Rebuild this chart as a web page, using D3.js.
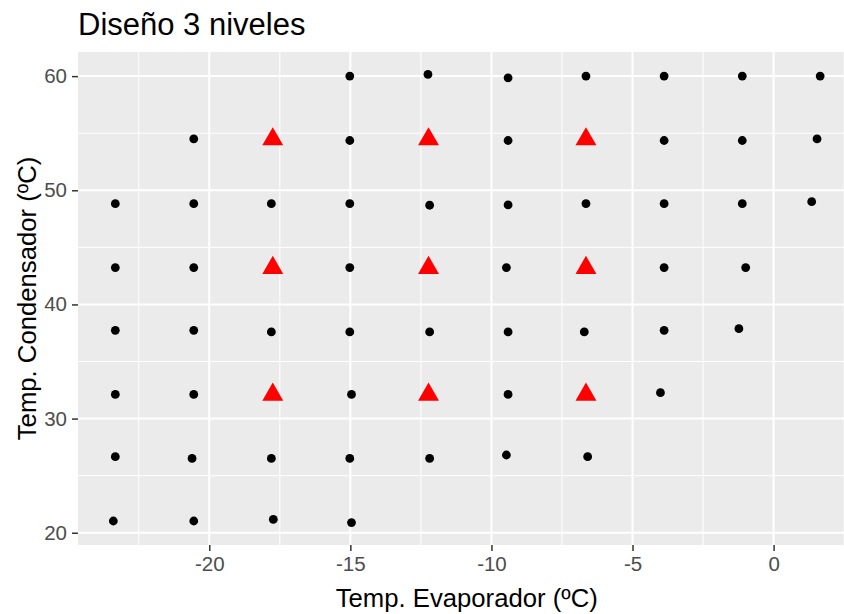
<!DOCTYPE html>
<html>
<head>
<meta charset="utf-8">
<script src="https://cdn.jsdelivr.net/npm/d3@7"></script>
<style>
  html, body { margin: 0; padding: 0; background: #fff; }
  svg { display: block; font-family: "Liberation Sans", Arial, sans-serif; }
</style>
</head>
<body>
<svg id="chart" width="844" height="614"></svg>
<script>
// Black points: evaporator temperature (x) and condenser temperature (y)
const evapX = [
  -15.02, -12.25, -9.41, -6.65, -3.88, -1.11, 1.65,
  -20.55, -15.02, -9.41, -3.88, -1.11, 1.54,
  -23.33, -20.55, -17.80, -15.02, -12.19, -9.41, -6.65, -3.88, -1.11, 1.35,
  -23.33, -20.55, -15.02, -9.47, -3.88, -0.99,
  -23.33, -20.55, -17.80, -15.02, -12.19, -9.41, -6.71, -3.88, -1.23,
  -23.33, -20.55, -14.96, -9.41, -4.01,
  -23.33, -20.61, -17.80, -15.02, -12.19, -9.47, -6.59,
  -23.40, -20.55, -17.73, -14.96
];
const condY = [
  60.00, 60.15, 59.85, 60.00, 60.00, 60.00, 60.00,
  54.50, 54.36, 54.36, 54.36, 54.36, 54.50,
  48.83, 48.83, 48.83, 48.83, 48.69, 48.72, 48.83, 48.83, 48.83, 49.00,
  43.23, 43.23, 43.23, 43.23, 43.23, 43.23,
  37.73, 37.73, 37.59, 37.59, 37.59, 37.59, 37.59, 37.73, 37.88,
  32.12, 32.12, 32.12, 32.12, 32.27,
  26.66, 26.51, 26.51, 26.51, 26.51, 26.81, 26.66,
  21.03, 21.03, 21.17, 20.89
];
// Red triangles: 3-level design points
const designX = [-17.75, -12.23, -6.65, -17.75, -12.23, -6.65, -17.75, -12.23, -6.65];
const designY = [54.47, 54.47, 54.47, 43.20, 43.20, 43.20, 32.10, 32.10, 32.10];

const xTicks = [-20, -15, -10, -5, 0];
const yTicks = [20, 30, 40, 50, 60];
const xMinor = [-22.5, -17.5, -12.5, -7.5, -2.5, 2.5];
const yMinor = [25, 35, 45, 55];

const titleText = "Diseño 3 niveles";
const xLabel = "Temp. Evaporador (ºC)";
const yLabel = "Temp. Condensador (ºC)";

const svg = d3.select("#chart");
const panel = { left: 78, top: 52, right: 855.5, bottom: 545 };

const allX = evapX.concat(designX);
const allY = condY.concat(designY);
function expand(ext) {
  const pad = (ext[1] - ext[0]) * 0.05;
  return [ext[0] - pad, ext[1] + pad];
}
const x = d3.scaleLinear().domain(expand(d3.extent(allX))).range([panel.left, panel.right]);
const y = d3.scaleLinear().domain(expand(d3.extent(allY))).range([panel.bottom, panel.top]);

// panel background
svg.append("rect")
  .attr("x", panel.left).attr("y", panel.top)
  .attr("width", panel.right - panel.left).attr("height", panel.bottom - panel.top)
  .attr("fill", "#EBEBEB");

const grid = svg.append("g");
grid.selectAll(".vminor").data(xMinor).join("line")
  .attr("x1", d => x(d)).attr("x2", d => x(d))
  .attr("y1", panel.top).attr("y2", panel.bottom)
  .attr("stroke", "#fff").attr("stroke-width", 1);
grid.selectAll(".hminor").data(yMinor).join("line")
  .attr("y1", d => y(d)).attr("y2", d => y(d))
  .attr("x1", panel.left).attr("x2", panel.right)
  .attr("stroke", "#fff").attr("stroke-width", 1);
grid.selectAll(".vmajor").data(xTicks).join("line")
  .attr("x1", d => x(d)).attr("x2", d => x(d))
  .attr("y1", panel.top).attr("y2", panel.bottom)
  .attr("stroke", "#fff").attr("stroke-width", 2);
grid.selectAll(".hmajor").data(yTicks).join("line")
  .attr("y1", d => y(d)).attr("y2", d => y(d))
  .attr("x1", panel.left).attr("x2", panel.right)
  .attr("stroke", "#fff").attr("stroke-width", 2);

// axes
const xAxis = d3.axisBottom(x).tickValues(xTicks).tickSize(6).tickPadding(5).tickFormat(d3.format("d"));
const gx = svg.append("g").attr("transform", `translate(0,${panel.bottom})`).call(xAxis);
gx.select(".domain").remove();
gx.selectAll(".tick line").attr("stroke", "#333").attr("stroke-width", 1.5);
gx.selectAll(".tick text").attr("fill", "#4D4D4D").style("font-size", "20.5px")
  .style("font-family", "'Liberation Sans', Arial, sans-serif").text(d => d < 0 ? "-" + Math.abs(d) : d);

const yAxis = d3.axisLeft(y).tickValues(yTicks).tickSize(6).tickPadding(5).tickFormat(d3.format("d"));
const gy = svg.append("g").attr("transform", `translate(${panel.left},0)`).call(yAxis);
gy.select(".domain").remove();
gy.selectAll(".tick line").attr("stroke", "#333").attr("stroke-width", 1.5);
gy.selectAll(".tick text").attr("fill", "#4D4D4D").style("font-size", "20.5px")
  .style("font-family", "'Liberation Sans', Arial, sans-serif");

// points
const pts = evapX.map((v, i) => ({ x: v, y: condY[i] }));
svg.append("g").selectAll("circle").data(pts).join("circle")
  .attr("cx", d => x(d.x)).attr("cy", d => y(d.y)).attr("r", 4.4).attr("fill", "#000");

const tri = designX.map((v, i) => ({ x: v, y: designY[i] }));
const triPath = d3.symbol().type(d3.symbolTriangle).size(190)();
svg.append("g").selectAll("path").data(tri).join("path")
  .attr("d", triPath)
  .attr("transform", d => `translate(${x(d.x)},${y(d.y)})`)
  .attr("fill", "#FF0000");

// titles
svg.append("text").attr("x", 78).attr("y", 35)
  .style("font-size", "31px").attr("fill", "#000").text(titleText);
svg.append("text").attr("x", (panel.left + panel.right) / 2).attr("y", 607)
  .attr("text-anchor", "middle").style("font-size", "25.7px").attr("fill", "#000").text(xLabel);
svg.append("text")
  .attr("transform", `translate(36,${(panel.top + panel.bottom) / 2}) rotate(-90)`)
  .attr("text-anchor", "middle").style("font-size", "25.7px").attr("fill", "#000").text(yLabel);
</script>
</body>
</html>
